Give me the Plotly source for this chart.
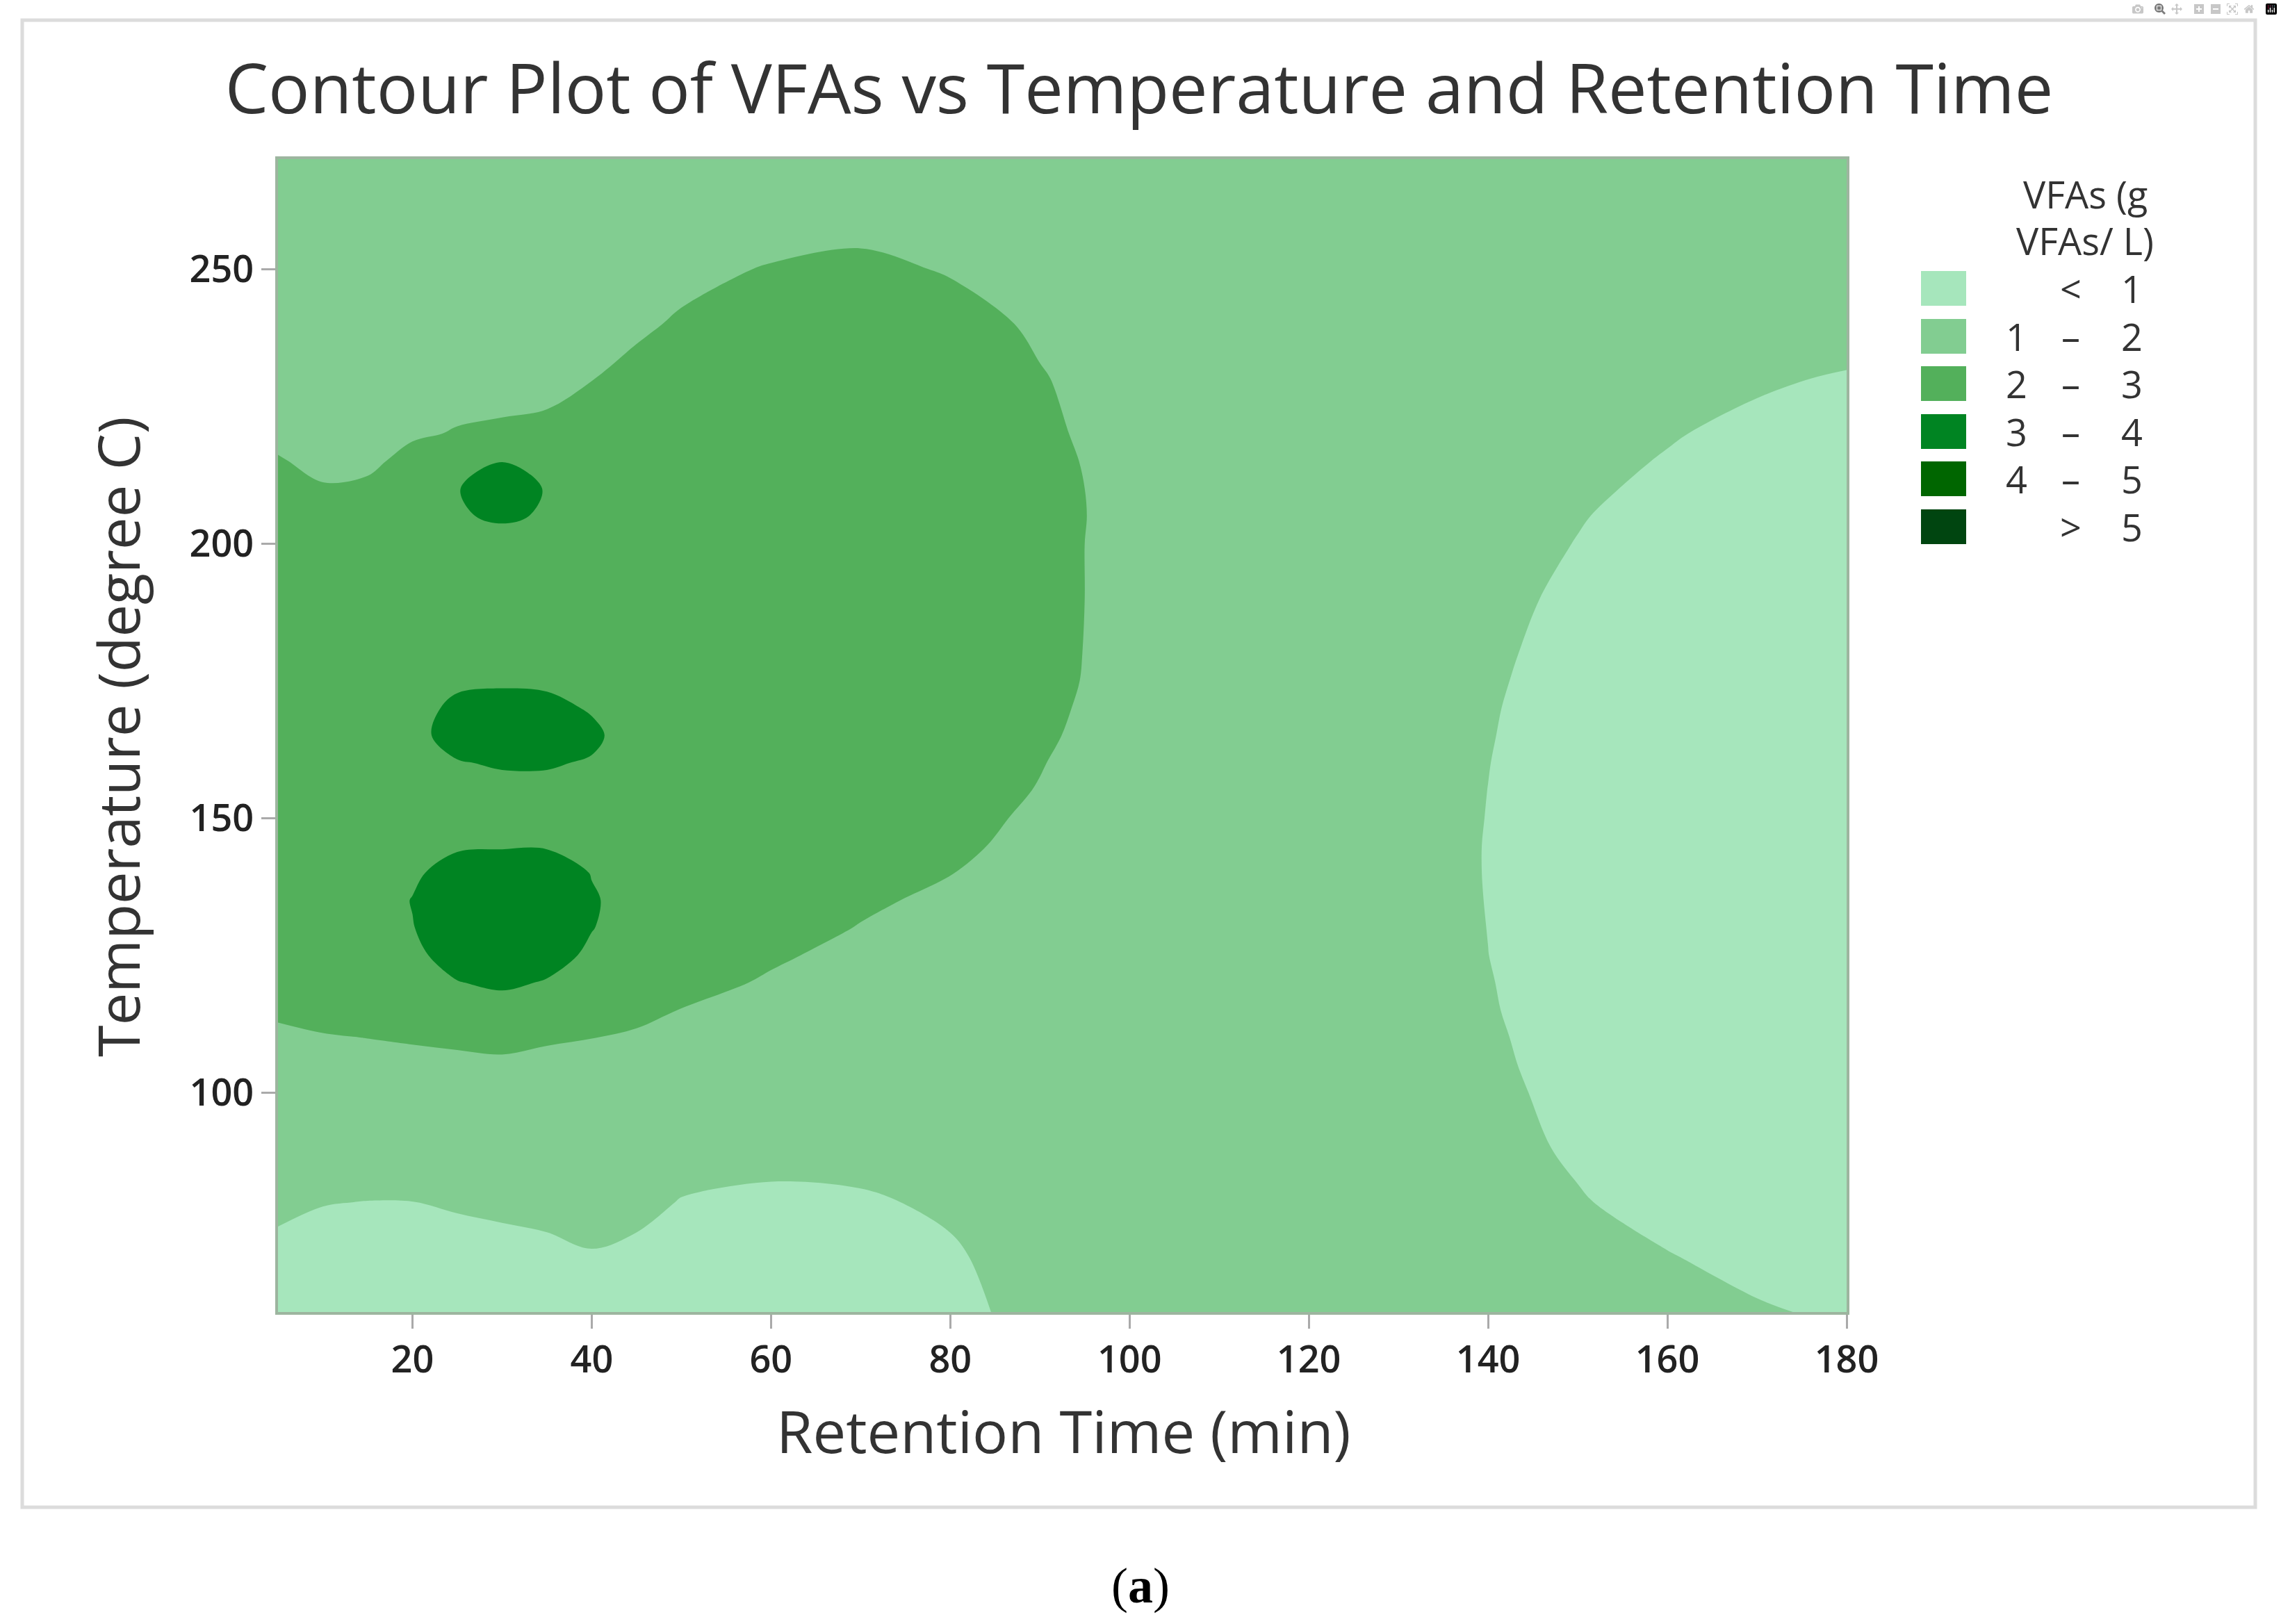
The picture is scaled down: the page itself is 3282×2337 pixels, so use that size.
import plotly.graph_objects as go

# ---------------- data ----------------
retention_time = [5, 10, 15, 20, 25, 30, 35, 40, 45, 50, 60, 70, 80, 90, 100, 120, 130, 140, 150, 160, 170, 180]
temperature = [60, 70, 80, 90, 100, 105, 110, 115, 120, 125, 130, 135, 140, 145, 150, 155, 160, 165,
               170, 175, 180, 190, 200, 205, 210, 215, 220, 230, 240, 250, 260, 270]

vfa = [
    [0.82, 0.80, 0.78, 0.78, 0.80, 0.82, 0.84, 0.86, 0.84, 0.80, 0.76, 0.76, 0.90, 1.12, 1.30, 1.42, 1.28, 1.18, 1.10, 1.06, 1.02, 0.97],   # 60
    [0.90, 0.87, 0.85, 0.85, 0.87, 0.90, 0.94, 0.98, 0.95, 0.88, 0.83, 0.84, 0.96, 1.15, 1.35, 1.42, 1.25, 1.14, 1.06, 1.01, 0.94, 0.89],   # 70
    [1.08, 1.011, 0.995, 0.997, 1.033, 1.06, 1.073, 1.113, 1.061, 0.99, 0.94, 0.96, 1.05, 1.18, 1.38, 1.45, 1.22, 1.10, 1.015, 0.93, 0.86, 0.82],  # 80
    [1.30, 1.25, 1.20, 1.20, 1.22, 1.25, 1.28, 1.30, 1.25, 1.10, 1.10, 1.12, 1.25, 1.35, 1.45, 1.45, 1.18, 1.07, 0.97, 0.88, 0.80, 0.76],   # 90
    [1.60, 1.65, 1.70, 1.75, 1.78, 1.80, 1.78, 1.72, 1.65, 1.55, 1.45, 1.45, 1.55, 1.60, 1.60, 1.42, 1.145, 1.045, 0.945, 0.84, 0.76, 0.72],  # 100
    [1.70, 1.75, 1.80, 1.84, 1.87, 1.90, 1.87, 1.82, 1.76, 1.68, 1.58, 1.55, 1.62, 1.68, 1.66, 1.40, 1.133, 1.033, 0.933, 0.82, 0.74, 0.70], # 105
    [1.88, 1.96, 2.008, 2.056, 2.11, 2.163, 2.056, 2.008, 1.95, 1.85, 1.70, 1.64, 1.66, 1.70, 1.68, 1.39, 1.124, 1.024, 0.924, 0.80, 0.72, 0.68],  # 110
    [2.10, 2.20, 2.30, 2.40, 2.55, 2.75, 2.60, 2.35, 2.10, 1.99, 1.80, 1.70, 1.70, 1.72, 1.70, 1.39, 1.114, 1.014, 0.914, 0.79, 0.71, 0.67],  # 115
    [2.20, 2.35, 2.50, 2.70, 2.98, 3.10, 2.96, 2.70, 2.40, 2.15, 1.95, 1.78, 1.72, 1.74, 1.72, 1.38, 1.108, 1.008, 0.908, 0.77, 0.69, 0.65],  # 120
    [2.30, 2.45, 2.62, 2.88, 3.22, 3.35, 3.22, 2.90, 2.60, 2.35, 2.06, 1.88, 1.78, 1.76, 1.74, 1.38, 1.101, 1.001, 0.901, 0.76, 0.68, 0.64],  # 125
    [2.35, 2.50, 2.65, 2.98, 3.35, 3.45, 3.35, 3.02, 2.75, 2.50, 2.20, 1.98, 1.82, 1.78, 1.75, 1.38, 1.098, 0.998, 0.898, 0.75, 0.67, 0.63],  # 130
    [2.40, 2.52, 2.70, 3.02, 3.35, 3.40, 3.35, 3.05, 2.80, 2.60, 2.30, 2.08, 1.90, 1.80, 1.76, 1.38, 1.095, 0.995, 0.895, 0.74, 0.66, 0.62],  # 135
    [2.42, 2.52, 2.65, 2.90, 3.25, 3.30, 3.30, 2.98, 2.80, 2.62, 2.38, 2.20, 2.01, 1.84, 1.77, 1.38, 1.093, 0.993, 0.893, 0.74, 0.66, 0.62],  # 140
    [2.42, 2.50, 2.60, 2.75, 2.92, 2.95, 2.95, 2.85, 2.72, 2.60, 2.42, 2.28, 2.07, 1.90, 1.78, 1.38, 1.093, 0.993, 0.893, 0.74, 0.66, 0.62],  # 145
    [2.42, 2.48, 2.55, 2.65, 2.72, 2.75, 2.75, 2.72, 2.65, 2.58, 2.45, 2.32, 2.15, 1.92, 1.78, 1.38, 1.096, 0.996, 0.896, 0.75, 0.67, 0.63],  # 150
    [2.43, 2.50, 2.58, 2.70, 2.80, 2.85, 2.85, 2.80, 2.70, 2.60, 2.48, 2.36, 2.20, 1.98, 1.78, 1.37, 1.099, 0.999, 0.899, 0.76, 0.68, 0.64],  # 155
    [2.45, 2.55, 2.65, 2.80, 2.97, 3.05, 3.05, 2.95, 2.78, 2.65, 2.50, 2.40, 2.25, 2.02, 1.75, 1.37, 1.103, 1.003, 0.903, 0.77, 0.69, 0.65],  # 160
    [2.45, 2.58, 2.70, 2.85, 3.20, 3.25, 3.25, 3.12, 2.70, 2.62, 2.52, 2.42, 2.28, 2.07, 1.78, 1.36, 1.109, 1.009, 0.909, 0.78, 0.70, 0.66],  # 165
    [2.45, 2.58, 2.68, 2.80, 3.12, 3.18, 3.15, 2.95, 2.70, 2.62, 2.52, 2.44, 2.30, 2.12, 1.78, 1.36, 1.115, 1.015, 0.915, 0.80, 0.72, 0.68],  # 170
    [2.44, 2.55, 2.63, 2.75, 2.90, 2.93, 2.90, 2.80, 2.68, 2.60, 2.52, 2.45, 2.32, 2.16, 1.80, 1.36, 1.124, 1.024, 0.924, 0.82, 0.74, 0.70],  # 175
    [2.42, 2.50, 2.58, 2.66, 2.72, 2.75, 2.72, 2.68, 2.62, 2.58, 2.52, 2.46, 2.35, 2.18, 1.80, 1.35, 1.134, 1.034, 0.934, 0.84, 0.76, 0.72],  # 180
    [2.38, 2.45, 2.50, 2.56, 2.60, 2.62, 2.60, 2.58, 2.56, 2.55, 2.52, 2.48, 2.38, 2.22, 1.78, 1.35, 1.142, 1.052, 0.962, 0.875, 0.80, 0.76],  # 190
    [2.30, 2.30, 2.35, 2.42, 2.50, 2.60, 2.55, 2.50, 2.50, 2.52, 2.52, 2.50, 2.40, 2.22, 1.78, 1.35, 1.145, 1.07, 0.995, 0.915, 0.85, 0.80],  # 200
    [2.25, 2.20, 2.25, 2.35, 2.90, 3.15, 2.90, 2.55, 2.50, 2.50, 2.52, 2.50, 2.42, 2.22, 1.80, 1.36, 1.16, 1.085, 1.01, 0.94, 0.875, 0.83],   # 205
    [2.15, 2.03, 2.06, 2.30, 2.96, 3.50, 2.94, 2.55, 2.50, 2.52, 2.55, 2.55, 2.45, 2.20, 1.80, 1.36, 1.165, 1.095, 1.03, 0.965, 0.90, 0.855], # 210
    [2.03, 1.90, 1.93, 2.10, 2.40, 2.98, 2.50, 2.45, 2.50, 2.55, 2.60, 2.60, 2.50, 2.17, 1.78, 1.37, 1.175, 1.105, 1.045, 0.99, 0.93, 0.88],  # 215
    [1.90, 1.85, 1.88, 1.96, 2.02, 2.05, 2.08, 2.25, 2.40, 2.50, 2.60, 2.62, 2.55, 2.12, 1.75, 1.38, 1.20, 1.125, 1.068, 1.012, 0.96, 0.905], # 220
    [1.78, 1.80, 1.82, 1.84, 1.87, 1.88, 1.90, 1.99, 2.12, 2.30, 2.45, 2.50, 2.42, 2.04, 1.70, 1.40, 1.28, 1.18, 1.112, 1.062, 1.022, 0.985], # 230
    [1.75, 1.75, 1.76, 1.78, 1.80, 1.83, 1.86, 1.89, 1.93, 2.05, 2.30, 2.35, 2.25, 1.90, 1.62, 1.42, 1.33, 1.25, 1.18, 1.13, 1.10, 1.08],    # 240
    [1.70, 1.70, 1.70, 1.70, 1.72, 1.75, 1.78, 1.80, 1.85, 1.88, 2.03, 2.15, 1.95, 1.75, 1.58, 1.40, 1.34, 1.28, 1.22, 1.17, 1.14, 1.12],    # 250
    [1.65, 1.65, 1.65, 1.65, 1.65, 1.66, 1.68, 1.70, 1.72, 1.74, 1.75, 1.75, 1.72, 1.65, 1.52, 1.40, 1.35, 1.30, 1.25, 1.20, 1.17, 1.15],    # 260
    [1.60, 1.60, 1.60, 1.60, 1.60, 1.60, 1.60, 1.60, 1.65, 1.70, 1.75, 1.75, 1.70, 1.60, 1.50, 1.40, 1.35, 1.30, 1.25, 1.22, 1.20, 1.20],    # 270
]

band_labels_left = ["", "1", "2", "3", "4", ""]
band_labels_mid = ["<", "–", "–", "–", "–", ">"]
band_labels_right = ["1", "2", "3", "4", "5", "5"]
band_colors = ["#A6E6BC", "#82CD91", "#53B05B", "#008422", "#006600", "#004510"]

x_ticks = [20, 40, 60, 80, 100, 120, 140, 160, 180]
y_ticks = [100, 150, 200, 250]

# ---------------- layout geometry (pixels) ----------------
W, H = 3282, 2337
PL, PR, PT, PB = 400, 2657, 229, 1888


def px(x):
    return (x - PL) / (PR - PL)


def py(y):
    return (PB - y) / (PB - PT)


FONT = "Open Sans"
TXT = "#333333"

n = len(band_colors)
colorscale = [[i / (n - 1), c] for i, c in enumerate(band_colors)]

fig = go.Figure()
fig.add_trace(go.Contour(
    x=retention_time, y=temperature, z=vfa,
    autocontour=False,
    contours=dict(start=1, end=5, size=1, coloring="fill", showlines=False),
    colorscale=colorscale,
    line=dict(width=0, smoothing=1),
    showscale=False,
    hoverinfo="x+y+z",
))

shapes = []
annotations = []

# outer frame
shapes.append(dict(type="rect", xref="paper", yref="paper",
                   x0=px(32), x1=px(3245), y0=py(2169), y1=py(29),
                   line=dict(color="#DCDCDC", width=5), fillcolor="rgba(0,0,0,0)", layer="below"))

# legend
LEG_FONT = 54
annotations.append(dict(text="VFAs (g", x=px(3000), y=py(279), xref="paper", yref="paper",
                        showarrow=False, xanchor="center", yanchor="middle",
                        font=dict(family=FONT, size=LEG_FONT, color=TXT)))
annotations.append(dict(text="VFAs/ L)", x=px(3000), y=py(346), xref="paper", yref="paper",
                        showarrow=False, xanchor="center", yanchor="middle",
                        font=dict(family=FONT, size=LEG_FONT, color=TXT)))
centers = [415, 484, 552, 621, 689, 758]
for i in range(n):
    c = centers[i]
    shapes.append(dict(type="rect", xref="paper", yref="paper",
                       x0=px(2764), x1=px(2829), y0=py(c + 25), y1=py(c - 25),
                       line=dict(width=0), fillcolor=band_colors[i]))
    for txt, xc in ((band_labels_left[i], 2901), (band_labels_mid[i], 2979), (band_labels_right[i], 3067)):
        if txt:
            annotations.append(dict(text=txt, x=px(xc), y=py(c), xref="paper", yref="paper",
                                    showarrow=False, xanchor="center", yanchor="middle",
                                    font=dict(family=FONT, size=LEG_FONT, color=TXT)))

# axis titles
annotations.append(dict(text="Retention Time (min)", x=px(1530), y=py(2058), xref="paper", yref="paper",
                        showarrow=False, xanchor="center", yanchor="middle",
                        font=dict(family=FONT, size=85, color=TXT)))
annotations.append(dict(text="Temperature (degree C)", x=px(168), y=py(1060), xref="paper", yref="paper",
                        showarrow=False, xanchor="center", yanchor="middle", textangle=-90,
                        font=dict(family=FONT, size=83, color=TXT)))
# caption
annotations.append(dict(text="(<b>a</b>)", x=px(1641), y=py(2282), xref="paper", yref="paper",
                        showarrow=False, xanchor="center", yanchor="middle",
                        font=dict(family="Liberation Serif", size=72, color="#000000")))

fig.update_layout(
    width=W, height=H,
    margin=dict(l=PL, r=W - PR, t=PT, b=H - PB, pad=0),
    paper_bgcolor="white", plot_bgcolor="white",
    title=dict(text="Contour Plot of VFAs vs Temperature and Retention Time",
               x=1639 / W, xref="container", xanchor="center",
               y=1 - 128 / H, yanchor="middle",
               font=dict(family=FONT, size=99, color=TXT)),
    showlegend=False,
    shapes=shapes,
    annotations=annotations,
    xaxis=dict(range=[5, 180], tickvals=x_ticks, ticks="outside", ticklen=20, tickwidth=3,
               tickcolor="#AAAAAA", showgrid=False, zeroline=False,
               showline=True, linecolor="#9DB59F", linewidth=4, mirror=True,
               ticklabelstandoff=-2,
               tickfont=dict(family=FONT, size=54, color="#222222", weight=600)),
    yaxis=dict(range=[60, 270], tickvals=y_ticks, ticks="outside", ticklen=20, tickwidth=3,
               tickcolor="#AAAAAA", showgrid=False, zeroline=False,
               showline=True, linecolor="#9DB59F", linewidth=4, mirror=True,
               tickfont=dict(family=FONT, size=54, color="#222222", weight=600)),
)

fig.write_html("out.html", post_script="document.body.style.margin='0';")
